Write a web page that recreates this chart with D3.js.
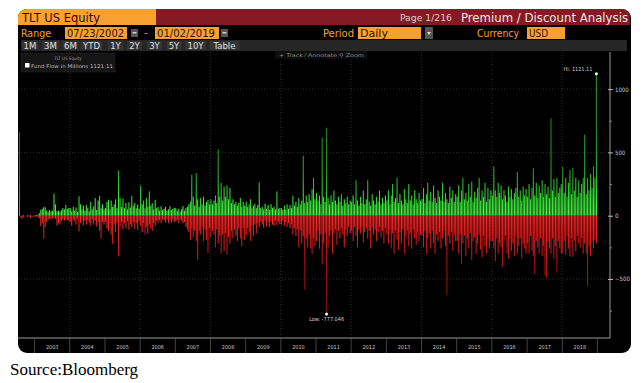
<!DOCTYPE html>
<html><head><meta charset="utf-8">
<script src="https://cdn.jsdelivr.net/npm/d3@7"></script>
<style>body{margin:0;background:#fff}svg{display:block}</style>
</head><body>
<svg id="c" width="644" height="383"></svg>
<script>
// ---------- data ----------
const years = [2003,2004,2005,2006,2007,2008,2009,2010,2011,2012,2013,2014,2015,2016,2017,2018];
const yTicks = [-500, 0, 500, 1000];
const yMinorTicks = [-750, -250, 250, 750];
const rangeStart = "07/23/2002", rangeEnd = "01/02/2019";
const buttons = ["1M","3M","6M","YTD","1Y","2Y","3Y","5Y","10Y","Table"];
// semi-monthly fund flow peaks (millions USD), first period starts 2002-07-23
const inflows = [
 663,0,0,5,0,0,5,0,5,0,0,                                                               // 2002
 5,5,10,20,47,55,70,65,40,30,45,35,40,174,90,35,40,30,45,60,50,87,55,60,                // 2003
 60,35,70,40,65,30,153,90,50,80,40,85,60,35,110,50,75,140,45,120,158,60,90,50,          // 2004
 60,110,126,50,120,70,90,130,60,358,140,70,135,60,100,50,105,65,158,80,100,60,90,55,    // 2005
 237,90,120,60,140,70,192,80,100,50,126,60,70,40,75,45,55,70,40,50,75,45,55,60,         // 2006
 60,40,55,30,50,75,40,60,70,90,110,324,150,80,337,130,70,140,90,150,80,110,125,90,      // 2007
 130,90,120,160,100,526,150,260,120,230,150,240,130,220,100,130,90,110,80,100,140,70,110,80, // 2008
 110,70,90,130,60,80,95,60,85,263,60,70,50,95,55,85,45,90,60,70,50,192,55,60,           // 2009
 60,45,80,50,90,55,85,60,158,80,110,70,140,90,120,474,100,160,110,170,120,210,300,130,  // 2010
 180,120,160,90,616,150,110,695,140,90,160,110,200,120,90,150,110,170,80,130,100,150,90,120, // 2011
 110,160,90,280,120,80,150,100,200,90,130,280,110,80,170,120,90,150,110,200,90,140,100,160, // 2012
 120,200,90,160,250,110,140,300,100,170,120,90,210,130,100,250,120,160,90,200,130,100,180,120, // 2013
 130,220,100,170,260,120,190,110,240,140,100,200,150,120,260,110,180,130,100,230,140,200,110,170, // 2014
 150,240,110,200,300,130,180,120,250,150,270,110,190,140,220,300,120,200,150,260,110,220,130,200, // 2015
 160,390,200,150,260,180,240,130,200,160,110,230,150,210,130,180,220,347,150,200,120,230,160,210, // 2016
 150,250,130,220,375,160,260,140,240,180,280,150,250,170,230,140,770,200,290,150,300,180,220,250, // 2017
 385,180,300,150,260,360,170,378,200,300,150,280,180,250,300,640,170,300,200,330,220,390,300,1121.11 // 2018
];
const outflows = [
 0,-10,-25,-15,-5,0,-10,-5,-20,-10,-5,                                                  // 2002
 -10,-5,-15,-20,-84,-60,-182,-90,-50,-32,-25,-30,-20,-15,-25,-79,-60,-70,-45,-30,-40,-25,-35,-40, // 2003
 -50,-80,-30,-40,-70,-25,-124,-60,-30,-75,-40,-70,-35,-55,-80,-30,-70,-40,-85,-50,-120,-182,-50,-70, // 2004
 -50,-100,-120,-60,-150,-222,-70,-130,-60,-322,-84,-50,-110,-60,-100,-45,-110,-70,-90,-50,-105,-60,-110,-45, // 2005
 -80,-130,-60,-150,-90,-140,-70,-100,-120,-60,-80,-40,-55,-35,-60,-30,-40,-55,-30,-60,-35,-55,-30,-50, // 2006
 -45,-35,-60,-30,-40,-60,-50,-90,-110,-130,-190,-100,-170,-120,-200,-350,-120,-150,-90,-200,-110,-190,-295,-100, // 2007
 -170,-120,-150,-250,-110,-220,-160,-300,-150,-280,-140,-308,-170,-220,-120,-180,-110,-160,-200,-100,-180,-242,-100,-190, // 2008
 -150,-100,-130,-200,-80,-160,-70,-140,-60,-90,-50,-70,-95,-40,-85,-50,-90,-45,-70,-80,-40,-75,-50,-65, // 2009
 -70,-40,-80,-50,-90,-60,-100,-70,-150,-100,-160,-110,-250,-120,-220,-160,-585,-180,-250,-150,-260,-300,-180,-240, // 2010
 -200,-120,-260,-150,-387,-220,-140,-777.046,-250,-160,-120,-300,-140,-110,-230,-120,-180,-100,-150,-250,-110,-160,-90,-140, // 2011
 -120,-200,-90,-160,-250,-110,-140,-90,-210,-130,-100,-180,-120,-260,-90,-150,-110,-200,-130,-90,-170,-120,-220,-100, // 2012
 -150,-220,-110,-260,-140,-300,-120,-190,-270,-130,-220,-110,-300,-160,-120,-240,-140,-260,-110,-180,-230,-130,-200,-150, // 2013
 -160,-250,-120,-300,-180,-140,-260,-120,-220,-300,-150,-200,-130,-260,-180,-120,-240,-627,-160,-220,-130,-280,-150,-200, // 2014
 -200,-300,-150,-380,-220,-160,-320,-180,-260,-140,-350,-200,-170,-300,-220,-150,-270,-330,-160,-240,-300,-180,-260,-200, // 2015
 -200,-260,-360,-180,-300,-220,-250,-405,-200,-160,-300,-340,-180,-280,-220,-320,-160,-300,-240,-180,-340,-220,-260,-300, // 2016
 -220,-300,-160,-280,-320,-460,-200,-250,-300,-180,-320,-240,-475,-490,-200,-260,-300,-180,-340,-240,-450,-200,-260,-300, // 2017
 -295,-200,-310,-160,-260,-320,-180,-325,-200,-280,-160,-220,-250,-180,-300,-220,-300,-560,-240,-320,-200,-260,-190,-220  // 2018
];
// ---------- layout ----------
const svg = d3.select("#c");
const P = {x:18, y:9, w:613, h:344};
const plot = {left:19, right:597.5, top:52, bottom:338, axisX:610};
const ORANGE = "#f7a132", HRED = "#841a24";
const FONT = "'Liberation Sans Narrow','DejaVu Sans Condensed','Liberation Sans',sans-serif";

const defs = svg.append("defs");
defs.append("clipPath").attr("id","panelClip").append("rect")
  .attr("x",P.x).attr("y",P.y).attr("width",P.w).attr("height",P.h).attr("rx",9);
svg.append("rect").attr("x",P.x).attr("y",P.y).attr("width",P.w).attr("height",P.h)
  .attr("rx",9).attr("fill","#000");
const g = svg.append("g").attr("clip-path","url(#panelClip)");

function txt(parent, x, y, s, size, fill, len, anchor){
  const t = parent.append("text").attr("x",x).attr("y",y).text(s)
    .attr("font-family",FONT).attr("font-size",size).attr("fill",fill);
  if (len) t.attr("textLength",len).attr("lengthAdjust","spacingAndGlyphs");
  if (anchor) t.attr("text-anchor",anchor);
  return t;
}
// header row
g.append("rect").attr("x",P.x).attr("y",P.y).attr("width",612).attr("height",16).attr("fill",HRED);
g.append("rect").attr("x",P.x).attr("y",P.y).attr("width",138).attr("height",16).attr("fill",ORANGE);
txt(g, 22, 22, "TLT US Equity", 12.5, "#2a0f00", 78);
txt(g, 400, 21, "Page 1/216", 9, "#e8c8c8", 52);
txt(g, 461, 22, "Premium / Discount Analysis", 12.5, "#f4e4e4", 167);

// row 2
const r2y = 27, r2h = 12;
txt(g, 21, 37, "Range", 11, ORANGE, 30);
function field(x, w, s, tl){
  g.append("rect").attr("x",x).attr("y",r2y).attr("width",w).attr("height",r2h).attr("fill",ORANGE);
  txt(g, x+2, 37, s, 11, "#2a0f00", tl);
}
function icon(x){
  g.append("rect").attr("x",x).attr("y",r2y+2).attr("width",7).attr("height",8).attr("fill","#555");
  g.append("rect").attr("x",x+1.5).attr("y",r2y+5).attr("width",4).attr("height",1.5).attr("fill","#ccc");
}
field(65, 62, rangeStart, 57); icon(131);
txt(g, 144, 36, "-", 11, ORANGE);
field(155, 64, rangeEnd, 58); icon(221);
txt(g, 323, 37, "Period", 11, ORANGE, 31);
field(358, 63, "Daily", 28);
g.append("rect").attr("x",425).attr("y",r2y).attr("width",8).attr("height",r2h).attr("fill","#555");
g.append("path").attr("d","M427,32 L431,32 L429,35 Z").attr("fill","#ddd");
txt(g, 477, 37, "Currency", 11, ORANGE, 42);
field(527, 38, "USD", 19);

// row 3
g.append("rect").attr("x",21).attr("y",40).attr("width",606).attr("height",11).attr("fill","#262626");
const bCenters = [30, 50.5, 70.5, 91.5, 115.5, 134.5, 154.5, 174, 195.5, 224.5];
const bWidths = [14, 14, 14, 20, 13, 13, 13, 13, 19, 28];
buttons.forEach((b,i)=>{
  g.append("rect").attr("x",bCenters[i]-bWidths[i]/2-1).attr("y",41).attr("width",bWidths[i]+2).attr("height",9).attr("fill","#333");
  txt(g, bCenters[i], 49, b, 9.5, "#e0e0e0", null, "middle");
});

// ---------- scales ----------
const parse = d3.timeParse("%m/%d/%Y");
const x = d3.scaleTime().domain([parse(rangeStart), parse(rangeEnd)]).range([plot.left, plot.right]);
const y = d3.scaleLinear().domain([-1000, 1000]).range([215.7 + 126.6, 215.7 - 126.6]);

const periods = inflows.map((_, k) => {
  if (k === 0) return parse(rangeStart);
  const j = k - 1;
  return new Date(2002, 7 + Math.floor(j / 2), j % 2 ? 16 : 1);
});

// grid
const grid = g.append("g");
years.filter(yr => yr % 2 === 0).forEach(yr => {
  const gx = x(new Date(yr,0,1));
  grid.append("line").attr("x1",gx).attr("x2",gx).attr("y1",plot.top).attr("y2",plot.bottom)
    .attr("stroke","#3a3a3a").attr("stroke-width",0.8).attr("stroke-dasharray","1,2");
});
[1000,500,-500].forEach(v => {
  grid.append("line").attr("x1",P.x).attr("x2",plot.axisX).attr("y1",y(v)).attr("y2",y(v))
    .attr("stroke","#3a3a3a").attr("stroke-width",0.8).attr("stroke-dasharray","1,2");
});

// gradients
const gg = defs.append("linearGradient").attr("id","gGreen").attr("gradientUnits","userSpaceOnUse")
  .attr("x1",0).attr("x2",0).attr("y1",y(0)).attr("y2",y(700));
gg.append("stop").attr("offset",0).attr("stop-color","#46ff46");
gg.append("stop").attr("offset",0.18).attr("stop-color","#36e636");
gg.append("stop").attr("offset",0.5).attr("stop-color","#27a827");
gg.append("stop").attr("offset",1).attr("stop-color","#1f8c1f");
const gr = defs.append("linearGradient").attr("id","gRed").attr("gradientUnits","userSpaceOnUse")
  .attr("x1",0).attr("x2",0).attr("y1",y(0)).attr("y2",y(-700));
gr.append("stop").attr("offset",0).attr("stop-color","#ff2a2a");
gr.append("stop").attr("offset",0.22).attr("stop-color","#e81a1a");
gr.append("stop").attr("offset",0.55).attr("stop-color","#b41212");
gr.append("stop").attr("offset",1).attr("stop-color","#900c0c");

const data = periods.map((d,k) => ({d, next: k+1 < periods.length ? periods[k+1] : parse(rangeEnd), inn: inflows[k], out: outflows[k]}));
const bars = g.append("g");
const bwid = d => Math.max(0.8, (x(d.next) - x(d.d)) * 0.7);
bars.selectAll("rect.in").data(data).join("rect").attr("class","in")
  .attr("x", d => x(d.d)).attr("width", bwid)
  .attr("y", d => y(d.inn)).attr("height", d => y(0) - y(d.inn))
  .attr("fill","url(#gGreen)");
bars.selectAll("rect.out").data(data).join("rect").attr("class","out")
  .attr("x", d => x(d.d)).attr("width", bwid)
  .attr("y", y(0)).attr("height", d => y(d.out) - y(0))
  .attr("fill","url(#gRed)");

// hi / low markers
const hi = data[d3.maxIndex(data, d => d.inn)];
const lo = data[d3.minIndex(data, d => d.out)];
const hx = x(hi.d) + 0.5, lx = x(lo.d) + 0.5;
g.append("circle").attr("cx",hx).attr("cy",y(hi.inn)).attr("r",1.6).attr("fill","#eee");
txt(g, hx - 4, y(hi.inn) - 3, "Hi: " + hi.inn, 5.5, "#cfcfcf", null, "end");
g.append("circle").attr("cx",lx).attr("cy",y(lo.out)).attr("r",1.6).attr("fill","#eee");
txt(g, lx, y(lo.out) + 6.5, "Low: " + lo.out, 5.5, "#cfcfcf", null, "middle");

// right axis
const ax = g.append("g").attr("transform",`translate(${plot.axisX},0)`);
ax.append("line").attr("x1",0).attr("x2",0).attr("y1",plot.top).attr("y2",plot.bottom).attr("stroke","#9a9a9a").attr("stroke-width",1);
const yAxis = d3.axisRight(y).tickValues(yTicks).tickSize(3).tickPadding(2).tickFormat(d3.format("d"));
const ya = ax.append("g").call(yAxis);
ya.select(".domain").remove();
ya.selectAll("line").attr("stroke","#bbb").attr("x1",-2);
ya.selectAll("text").attr("fill","#c8c8c8").attr("font-size",6).attr("font-family",FONT);
const ym = ax.append("g").call(d3.axisRight(y).tickValues(yMinorTicks).tickSize(2).tickFormat(""));
ym.select(".domain").remove();
ym.selectAll("line").attr("stroke","#888");

// bottom axis band
g.append("line").attr("x1",P.x).attr("x2",plot.axisX).attr("y1",plot.bottom).attr("y2",plot.bottom).attr("stroke","#9a9a9a");
years.concat([2019]).forEach(yr => {
  const sx = x(new Date(yr,0,1));
  g.append("line").attr("x1",sx).attr("x2",sx).attr("y1",plot.bottom).attr("y2",P.y+P.h).attr("stroke","#555").attr("stroke-width",0.8);
});
years.forEach(yr => {
  const cx = (x(new Date(yr,0,1)) + x(new Date(yr+1,0,1))) / 2;
  txt(g, cx, 349, String(yr), 5.5, "#c8c8c8", null, "middle");
});

// legend box
g.append("rect").attr("x",21).attr("y",53).attr("width",94).attr("height",19).attr("fill","#151515").attr("stroke","#2a2a2a").attr("stroke-width",0.5);
txt(g, 68, 60, "TLT US Equity", 4.5, "#9a9a9a", null, "middle");
g.append("rect").attr("x",25).attr("y",63).attr("width",4.5).attr("height",4.5).attr("fill","#fff");
txt(g, 31, 67.5, "Fund Flow in Millions " + hi.inn, 5, "#bdbdbd", 82);

// toolbar
g.append("rect").attr("x",275).attr("y",51).attr("width",92).attr("height",8).attr("fill","#0d0d0d");
txt(g, 279, 57, "+ Track   ⁄ Annotate   ⚲ Zoom", 5, "#8a8a8a", 85);

// source
svg.append("text").attr("x",10).attr("y",375).text("Source:Bloomberg")
  .attr("font-family","'Liberation Serif','Times New Roman',serif").attr("font-size",17).attr("fill","#000");
</script>
</body></html>
